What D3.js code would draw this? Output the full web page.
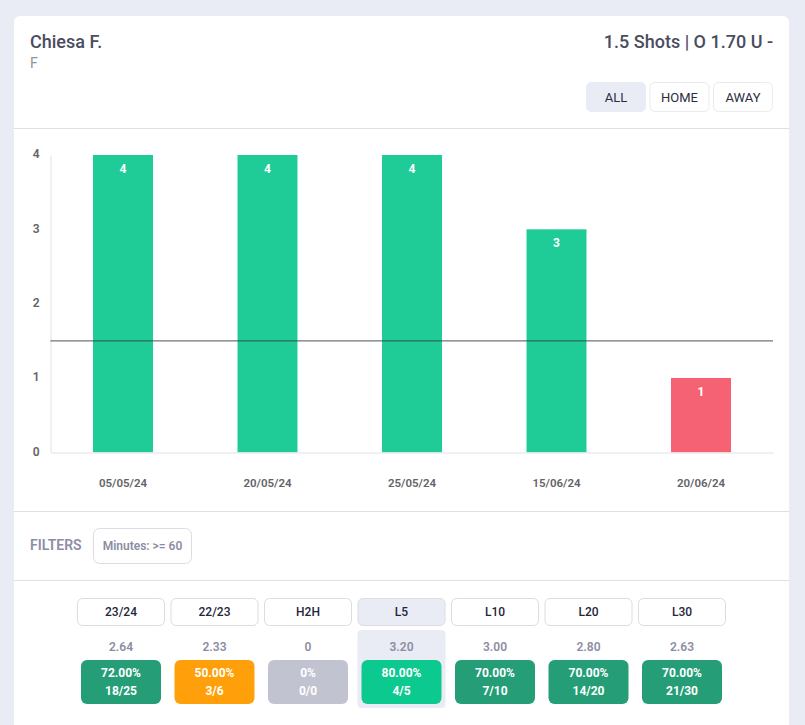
<!DOCTYPE html>
<html><head><meta charset="utf-8">
<script src="https://cdn.jsdelivr.net/npm/d3@7/dist/d3.min.js"></script>
<style>
html,body{margin:0;padding:0;background:#e9ecf5;overflow:hidden}
svg{display:block}
text{font-family:Roboto,sans-serif}
</style></head><body>
<svg id="c" width="805" height="725"></svg>
<script>
const dates = ["05/05/24","20/05/24","25/05/24","15/06/24","20/06/24"];
const shots = [4,4,4,3,1];
const lineValue = 1.5;
const yTicks = [0,1,2,3,4];
const playerName = "Chiesa F.";
const playerPos = "F";
const marketLabel = "1.5 Shots | O 1.70 U -";
const venues = ["ALL","HOME","AWAY"];
const filterLabel = "FILTERS";
const filterValue = "Minutes: >= 60";
const periods = ["23/24","22/23","H2H","L5","L10","L20","L30"];
const averages = ["2.64","2.33","0","3.20","3.00","2.80","2.63"];
const percents = ["72.00%","50.00%","0%","80.00%","70.00%","70.00%","70.00%"];
const ratios = ["18/25","3/6","0/0","4/5","7/10","14/20","21/30"];
const selectedPeriod = "L5";
const selectedVenue = "ALL";

const svg = d3.select("#c");
const colors = {bg:"#e9ecf5",line:"#dfdfe3",green:"#1fcc98",red:"#f56274",dark:"#4a4c60",grey:"#8c8da3"};

// card
svg.append("path").attr("fill","#fff")
  .attr("d","M14 760V22a6 6 0 0 1 6-6H783a6 6 0 0 1 6 6V760Z");
[128.5,511.5,580.5].forEach(y=>svg.append("line").attr("x1",14).attr("x2",789).attr("y1",y).attr("y2",y).attr("stroke",colors.line));

// header
svg.append("text").attr("x",30).attr("y",48).attr("font-size",18).attr("font-weight",500).attr("fill",colors.dark).text(playerName);
svg.append("text").attr("x",30).attr("y",68).attr("font-size",14).attr("fill","#939397").text(playerPos);
svg.append("text").attr("x",773).attr("y",48).attr("text-anchor","end").attr("font-size",18).attr("font-weight",500).attr("fill",colors.dark).text(marketLabel);

const vx = d3.scalePoint().domain(venues).range([616,743]);
const vg = svg.append("g").selectAll("g").data(venues).join("g").attr("transform",d=>`translate(${vx(d)},0)`);
vg.append("rect").attr("x",-29.5).attr("y",82.5).attr("width",59).attr("height",29).attr("rx",5)
  .attr("fill",d=>d===selectedVenue?colors.bg:"#fff").attr("stroke",d=>d===selectedVenue?colors.bg:"#ebebef");
vg.append("text").attr("y",101.5).attr("text-anchor","middle").attr("font-size",13).attr("fill","#2b2d3d").text(d=>d);

// chart
const x = d3.scaleBand().domain(dates).range([50.75,773.25]).paddingInner(0.585).paddingOuter(0.2925);
const y = d3.scaleLinear().domain([0,4]).range([452.3,155]);
const rows = dates.map((d,i)=>({d,v:shots[i]}));

svg.append("g").selectAll("rect").data(rows).join("rect")
  .attr("x",d=>x(d.d)).attr("width",x.bandwidth()).attr("y",d=>y(d.v)).attr("height",d=>y(0)-y(d.v))
  .attr("fill",d=>d.v>lineValue?colors.green:colors.red);

const ax = svg.append("g").attr("transform","translate(0,452.5)").call(d3.axisBottom(x).tickSize(0).tickPadding(26));
ax.select(".domain").attr("stroke","#e2e2e6");
ax.selectAll("text").attr("font-size",11.5).attr("font-weight",600).attr("fill","#636367").attr("font-family","Roboto,sans-serif");

const ay = svg.append("g").attr("transform","translate(50.5,-1)").call(d3.axisLeft(y).tickValues(yTicks).tickFormat(d3.format("d")).tickSize(0).tickPadding(11));
ay.select(".domain").attr("stroke","#e2e2e6").attr("transform","translate(0,1)");
ay.selectAll("text").attr("font-size",12).attr("font-weight",600).attr("fill","#636367").attr("font-family","Roboto,sans-serif");

svg.append("line").attr("x1",50.5).attr("x2",773).attr("y1",y(lineValue)).attr("y2",y(lineValue))
  .attr("stroke","#3a3f45").attr("stroke-opacity",.72).attr("stroke-width",1.2);

svg.append("g").selectAll("text").data(rows).join("text")
  .attr("x",d=>x(d.d)+x.bandwidth()/2).attr("y",d=>y(d.v)+18).attr("text-anchor","middle")
  .attr("font-size",12).attr("font-weight",700).attr("fill","#fff").text(d=>d.v);

// filters
svg.append("text").attr("x",30).attr("y",550).attr("font-size",14).attr("font-weight",600).attr("fill",colors.grey).text(filterLabel);
svg.append("rect").attr("x",93.5).attr("y",528.5).attr("width",98).attr("height",35).attr("rx",6).attr("fill","#fff").attr("stroke","#dcdce2");
svg.append("text").attr("x",142.5).attr("y",550).attr("text-anchor","middle").attr("font-size",12).attr("font-weight",600).attr("fill",colors.grey).text(filterValue);

// period stats
const px = d3.scalePoint().domain(periods).range([121,682]);
const pct = s=>parseFloat(s);
const badge = (p,i)=>{
  const [a,b]=ratios[i].split("/").map(Number);
  if(b===0) return "#c1c3d1";
  if(p===selectedPeriod) return "#0cc98f";
  return pct(percents[i])>=60?"#259e78":"#ff9f0a";
};
const pg = svg.append("g").selectAll("g").data(periods).join("g").attr("transform",d=>`translate(${px(d)},0)`);
pg.filter(d=>d===selectedPeriod).append("rect").attr("x",-44).attr("y",630).attr("width",88).attr("height",78).attr("rx",4).attr("fill",colors.bg);
pg.append("rect").attr("x",-43.5).attr("y",598.5).attr("width",87).attr("height",27).attr("rx",5)
  .attr("fill",d=>d===selectedPeriod?colors.bg:"#fff").attr("stroke","#dcdce2");
pg.append("text").attr("y",616).attr("text-anchor","middle").attr("font-size",12).attr("font-weight",500).attr("fill","#24263a").text(d=>d);
pg.append("text").attr("y",651).attr("text-anchor","middle").attr("font-size",12).attr("font-weight",600).attr("fill",colors.grey).text((d,i)=>averages[i]);
pg.append("rect").attr("x",-40).attr("y",660).attr("width",80).attr("height",44).attr("rx",6).attr("fill",(d,i)=>badge(d,i));
pg.append("text").attr("y",677).attr("text-anchor","middle").attr("font-size",12).attr("font-weight",700).attr("fill","#fff").text((d,i)=>percents[i]);
pg.append("text").attr("y",695).attr("text-anchor","middle").attr("font-size",12).attr("font-weight",700).attr("fill","#fff").text((d,i)=>ratios[i]);
</script>
</body></html>
